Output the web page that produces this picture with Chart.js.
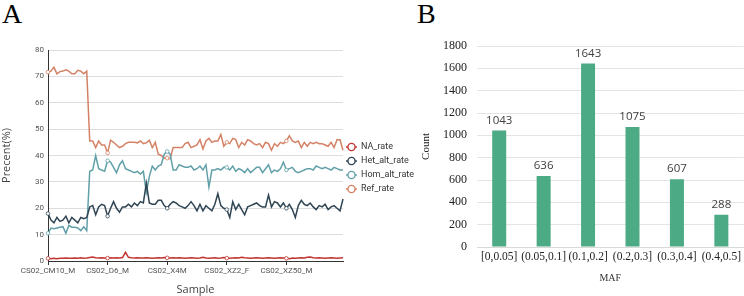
<!DOCTYPE html>
<html lang="en">
<head>
    <meta charset="UTF-8">
    <title>Sample rates and MAF distribution</title>
    <script src="https://cdn.jsdelivr.net/npm/chart.js"></script>
    <style>
        body { margin: 0; background: #fff; width: 744px; height: 296px; position: relative; overflow: hidden; }
        .panel-label { position: absolute; font-family: "Liberation Serif", serif; font-size: 28px; color: #000; line-height: 1; }
        #canvasA { position: absolute; left: 0; top: 0; z-index: 2; }
        #canvasB { position: absolute; left: 380px; top: 0; z-index: 1; }
    </style>
</head>
<body>
    <div class="panel-label" style="left:2px; top:0px;">A</div>
    <div class="panel-label" style="left:417px; top:0px;">B</div>
    <canvas id="canvasA" width="420" height="296"></canvas>
    <canvas id="canvasB" width="364" height="296"></canvas>

    <script>
        // ---- Panel A data ----
        const sampleTicks = ["CS02_CM10_M", "CS02_D6_M", "CS02_X4M", "CS02_XZ2_F", "CS02_XZ50_M"];
        const tickEvery = 20;
        const nSamples = 100;

        const naRate = [1.0,0.9,1.0,0.9,1.0,1.0,1.1,1.0,1.0,1.1,1.0,1.2,1.0,1.1,
            1.3,1.5,1.2,1.1,1.2,1.1,1.1,1.2,1.1,1.2,1.1,1.3,3.3,1.4,1.2,1.1,1.2,1.1,1.1,
            1.2,1.1,1.0,1.1,1.2,1.1,1.3,1.2,1.1,1.2,1.1,1.2,1.1,1.0,1.1,1.2,1.1,1.0,1.1,
            1.4,1.1,1.0,1.1,1.2,1.0,1.1,1.3,1.1,1.0,1.1,1.2,1.1,1.4,1.2,1.1,1.0,1.1,
            1.2,1.1,1.0,1.1,1.2,1.1,1.0,1.1,1.2,1.1,1.0,0.9,1.1,1.0,1.1,1.2,1.1,1.4,
            1.5,1.2,1.1,1.2,1.1,1.0,1.1,1.2,1.1,1.0,1.1,1.2];

        const hetRate = [18,15.5,14.5,16.5,15,15.5,17,14.5,16.5,15.5,14.5,16.5,16,16.5,
            20.5,21,17.5,20.5,21.5,21,17,20,22.5,20,18.5,20.5,20.5,21.5,20.5,22,21,22.5,22,
            29.5,22,21.5,21.5,23,23,21,20,21.5,
            22.5,22,21,20.5,20,21,22.5,21,19,21.5,19,21,20,19,21.5,25.5,21,20,
            19.5,16.5,22.5,19.5,21.5,19.5,17.5,20.5,21,21.5,22,21,20.5,20.5,25,20.5,
            22.5,22,20.5,22,20,21.5,19.5,16.5,21,23,21.5,21,22,20.5,19.5,21,
            20.5,21.5,19.5,20.5,21,20,19,23.5];

        const homRate = [10.5,12.5,12.2,12.5,12.8,13,10.5,13.5,12.8,12.8,12.5,11.5,13,11.5,
            34,34.5,40,35,34.5,34,38,37.5,35.5,33.5,36.5,38,35,34.5,34,33.5,34,33,34,
            26,32,36,34.5,36,36.5,40.5,41.5,40.5,
            34.5,34.5,36.5,36,35.5,35.5,36,34.5,35,36,34.5,36.5,28,34.5,34.5,35,
            34.5,35.5,35.5,34.5,36,34,35,34.5,33.5,35,33.5,34.5,35.5,35.5,33.5,35,
            36.5,33.5,34.5,34,35,37.5,34.5,35,35.5,34,33.5,34,34.5,35,35,34.5,
            36,35.5,35,35.5,35,34.5,35.5,35,34.5,34.5];

        const refRate = [71.6,72,73.5,71,71.8,72,72.5,72,71,71,72.3,72,71,72,
            45.5,45.5,43,45.5,44,44,41,45.8,45,44,43,43.5,44.5,45,45,45,44.8,45.5,44.5,
            44.8,45.8,43,45,40.5,40,39,39,38.8,
            43,43,43,43,44.5,45,43,43.5,44,46,
            42.5,45.5,46.5,45,45.5,45.5,48,43.5,45,44.5,
            46.5,46,43,45,44,46,45.5,44.5,44,44.5,
            43,45,44.5,42,44.5,43.5,45,44.5,45.5,47.5,
            45.5,45,45.5,43,45,43.5,45,44.5,45,44.5,
            44.5,44,43.5,45,43,46,46,42];

        const seriesNames = ["NA_rate", "Het_alt_rate", "Hom_alt_rate", "Ref_rate"];
        const seriesColors = ["#c23531", "#2f4554", "#61a0a8", "#d48265"];

        // ---- Panel B data ----
        const mafBins = ["[0,0.05]", "(0.05,0.1]", "(0.1,0.2]", "(0.2,0.3]", "(0.3,0.4]", "(0.4,0.5]"];
        const mafCounts = [1043, 636, 1643, 1075, 607, 288];

        // category labels: only every 20th sample is named on the axis
        const sampleLabels = [];
        for (let i = 0; i < nSamples; i++) {
            sampleLabels.push(i % tickEvery === 0 ? sampleTicks[i / tickEvery] : "");
        }

        const uiFont = "Roboto, 'Open Sans', sans-serif";
        const labelFont = "'Open Sans', 'Noto Sans', sans-serif";
        const serifFont = "'Liberation Serif', 'DejaVu Serif', serif";

        // legend drawn to the right of the plot (echarts style: line + hollow circle)
        const sideLegend = {
            id: "sideLegend",
            afterDraw(chart) {
                const c = chart.ctx;
                const x0 = 346, y0 = 147, gap = 14;
                c.save();
                chart.data.datasets.forEach((ds, i) => {
                    const y = y0 + i * gap;
                    c.strokeStyle = ds.borderColor;
                    c.lineWidth = 1.4;
                    c.beginPath();
                    c.moveTo(x0, y); c.lineTo(x0 + 11, y);
                    c.stroke();
                    c.beginPath();
                    c.arc(x0 + 5.5, y, 3.6, 0, Math.PI * 2);
                    c.fillStyle = "#fff";
                    c.fill();
                    c.stroke();
                    c.fillStyle = "#333";
                    c.font = "9px " + uiFont;
                    c.textBaseline = "middle";
                    c.textAlign = "left";
                    c.fillText(ds.label, x0 + 15, y);
                });
                c.restore();
            }
        };

        const datasetsA = [naRate, hetRate, homRate, refRate].map((vals, i) => ({
            label: seriesNames[i],
            data: vals,
            borderColor: seriesColors[i],
            backgroundColor: "#fff",
            borderWidth: 1.5,
            pointRadius: ctx => (ctx.dataIndex % tickEvery === 0 ? 1.8 : 0),
            pointBorderWidth: 0.8,
            pointBackgroundColor: "#fff",
            pointBorderColor: seriesColors[i],
            tension: 0,
            fill: false
        }));

        new Chart(document.getElementById("canvasA"), {
            type: "line",
            data: { labels: sampleLabels, datasets: datasetsA },
            options: {
                responsive: false,
                animation: false,
                layout: { padding: { top: 50, right: 77, left: 0, bottom: 0 } },
                plugins: { legend: { display: false }, tooltip: { enabled: false } },
                scales: {
                    x: {
                        offset: false,
                        grid: {
                            drawOnChartArea: false,
                            tickLength: 4,
                            color: ctx => (ctx.index % tickEvery === 0 ? "#333" : "rgba(0,0,0,0)")
                        },
                        border: { color: "#333", width: 1 },
                        ticks: {
                            autoSkip: false, maxRotation: 0, minRotation: 0,
                            color: "#555", padding: 1,
                            font: { size: 8, family: uiFont }
                        },
                        title: { display: true, text: "Sample", color: "#444", font: { size: 11, family: labelFont }, padding: { top: 6, bottom: 0 } },
                        afterFit: s => { s.height = 35; }
                    },
                    y: {
                        min: 0, max: 80,
                        grid: { color: "#dddddd", drawTicks: false },
                        border: { color: "#333", width: 1 },
                        ticks: { stepSize: 10, color: "#555", padding: 4, font: { size: 8, family: uiFont } },
                        title: { display: true, text: "Precent(%)", color: "#444", font: { size: 11, family: labelFont }, padding: { top: 0, bottom: 0 } },
                        afterFit: s => { s.width = 48; }
                    }
                }
            },
            plugins: [sideLegend]
        });

        // value labels on top of the bars
        const barValues = {
            id: "barValues",
            afterDatasetsDraw(chart) {
                const c = chart.ctx;
                const meta = chart.getDatasetMeta(0);
                c.save();
                c.fillStyle = "#404040";
                c.font = "11.5px " + labelFont;
                c.textAlign = "center";
                c.textBaseline = "middle";
                meta.data.forEach((bar, i) => {
                    c.fillText(String(chart.data.datasets[0].data[i]), bar.x, bar.y - 10);
                });
                c.restore();
            }
        };

        new Chart(document.getElementById("canvasB"), {
            type: "bar",
            data: {
                labels: mafBins,
                datasets: [{
                    label: "Count",
                    data: mafCounts,
                    backgroundColor: "#4caa84",
                    categoryPercentage: 1,
                    barPercentage: 0.315
                }]
            },
            options: {
                responsive: false,
                animation: false,
                layout: { padding: { top: 46, right: 0, left: 40, bottom: 12 } },
                plugins: { legend: { display: false }, tooltip: { enabled: false } },
                scales: {
                    x: {
                        grid: { display: false, drawTicks: false },
                        border: { color: "#d9d9d9", width: 1 },
                        ticks: { color: "#222", padding: 3, maxRotation: 0, autoSkip: false, font: { size: 11.5, family: serifFont } },
                        title: { display: true, text: "MAF", color: "#333", font: { size: 10, family: serifFont }, padding: { top: 8, bottom: 0 } },
                        afterFit: s => { s.height = 37; }
                    },
                    y: {
                        min: 0, max: 1800,
                        grid: { color: "#e4e4e4", drawTicks: false },
                        border: { display: false },
                        ticks: { stepSize: 200, color: "#222", padding: 10, font: { size: 12, family: serifFont }, callback: v => String(v) },
                        title: { display: true, text: "Count", color: "#222", font: { size: 11, family: serifFont }, padding: { top: 0, bottom: 0 } },
                        afterFit: s => { s.width = 57; }
                    }
                }
            },
            plugins: [barValues]
        });
    </script>
</body>
</html>
